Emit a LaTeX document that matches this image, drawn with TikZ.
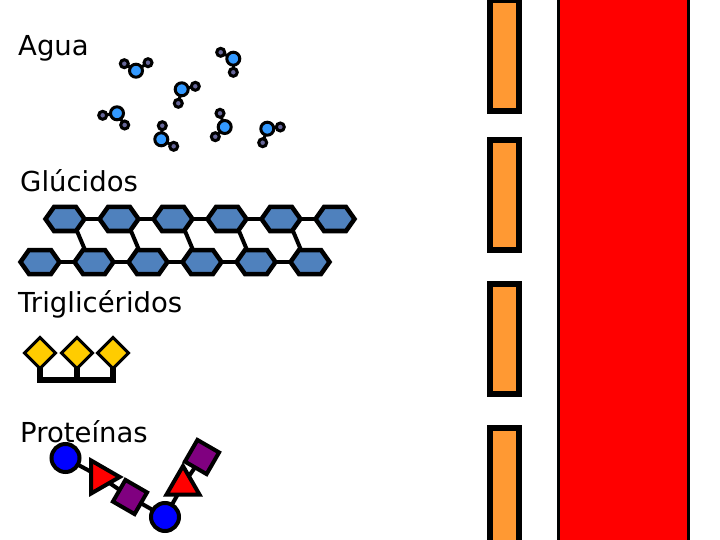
\documentclass[tikz,border=0pt]{standalone}
\usepackage{fontspec}
\setmainfont{DejaVu Sans}
\usetikzlibrary{shapes.geometric}
\definecolor{hexblue}{HTML}{4F81BD}
\definecolor{gold}{HTML}{FFCC00}
\definecolor{barorange}{HTML}{FF9933}
\definecolor{purp}{HTML}{800080}
\definecolor{oxy}{HTML}{3399FF}
\definecolor{hyd}{HTML}{666699}
\newcommand{\hexat}[1]{\path[draw,line width=4.5pt,fill=hexblue,line join=miter] (#1.west) -- ([xshift=-11pt]#1.north) -- ([xshift=11pt]#1.north) -- (#1.east) -- ([xshift=11pt]#1.south) -- ([xshift=-11pt]#1.south) -- cycle;}
\tikzset{
  x=1pt,y=-1pt,
  label text/.style={anchor=base west,inner sep=0,font=\fontsize{27.5}{30}\selectfont},
  hexa/.style={rectangle,minimum width=39pt,minimum height=24pt,inner sep=0,outer sep=0},
  hexline/.style={line width=4pt},
  gem/.style={diamond,draw,line width=3pt,fill=gold,minimum width=31pt,minimum height=31pt,inner sep=0,outer sep=0},
  bracket/.style={line width=6pt,line cap=rect},
  ball/.style={circle,draw,line width=4pt,fill=blue,minimum size=28pt,inner sep=0,outer sep=0},
  tri/.style={regular polygon,regular polygon sides=3,draw,line width=4pt,fill=red,inner sep=0,outer sep=0},
  sq/.style={rectangle,draw,line width=4pt,fill=purp,minimum width=25pt,minimum height=25pt,inner sep=0,outer sep=0},
  link/.style={line width=4pt},
  ox/.style={circle,draw,line width=3pt,fill=oxy,minimum size=13pt,inner sep=0,outer sep=0},
  hy/.style={circle,draw,line width=3pt,fill=hyd,minimum size=8pt,inner sep=0,outer sep=0},
  bond/.style={line width=3pt},
  bar/.style={draw,line width=6pt,fill=barorange},
}
\begin{document}
\begin{tikzpicture}
\useasboundingbox (0,0) rectangle (720,540);
\begin{scope}
\clip (0,0) rectangle (720,540);
\path[bar] (490,0) rectangle (519,111);
\path[bar] (490,140) rectangle (519,250);
\path[bar] (490,284) rectangle (519,394);
\path[bar] (490,428) rectangle (519,550);
\path[draw,line width=3pt,fill=red] (558.5,-5) rectangle (688.5,545);
\end{scope}
\node[label text] (tagua) at (18,56) {Agua};
\node[label text] (tglu) at (20,192) {Glúcidos};
\node[label text] (ttri) at (18,312) {Triglicéridos};
\node[label text] (tpro) at (20,442) {Proteínas};
% water
\foreach \n/\ox/\oy/\ax/\ay/\bx/\by in {a/136/70.7/124.3/63.7/148/62.7, b/233.3/58.7/220.7/52.3/233.3/72.3, c/181.7/89.3/195.3/86.3/178.3/103.3, d/117/113.3/102.7/115.3/124.7/125, e/161.3/139.3/162.3/125.7/173.7/146.3, f/224.7/127/220/113.3/215.3/136.7, g/267.3/128.7/280.3/127/262.7/142.7}{
  \node[ox] (o\n) at (\ox,\oy) {};
  \node[hy] (p\n) at (\ax,\ay) {};
  \node[hy] (q\n) at (\bx,\by) {};
  \draw[bond] (o\n) -- (p\n);
  \draw[bond] (o\n) -- (q\n);
}
% hexagons
\foreach \i/\x in {1/65,2/119,3/173,4/227,5/281,6/335}{\node[hexa] (t\i) at (\x,219) {};\hexat{t\i}}
\foreach \i/\x in {1/40,2/94,3/148,4/202,5/256,6/310}{\node[hexa] (u\i) at (\x,262) {};\hexat{u\i}}
\foreach \a/\b in {1/2,2/3,3/4,4/5,5/6}{
  \draw[hexline] (t\a) -- (t\b);
  \draw[hexline] (u\a) -- (u\b);
}
\foreach \a/\b in {1/2,2/3,3/4,4/5,5/6}{
  \draw[hexline] ([xshift=12pt]t\a.south) -- ([xshift=-9pt]u\b.north);
}
% triglycerides
\node[gem] (d1) at (40,353) {};
\node[gem] (d2) at (77,353) {};
\node[gem] (d3) at (113,353) {};
\draw[bracket] (d1.south) |- (d3 |- 0,380) coordinate (bend) -- (d3.south);
\draw[bracket] (d2.south) -- (d2 |- bend);
% proteins
\node[ball] (c1) at (65.5,458) {};
\node[tri,minimum size=38pt,shape border rotate=-90] (tr1) at (100.7,477) {};
\node[sq,rotate=-30] (s1) at (130,497) {};
\node[ball] (c2) at (165,517) {};
\node[tri,minimum size=38pt] (tr2) at (183,485) {};
\node[sq,rotate=-30] (s2) at (202,457) {};
\draw[link] (c1) -- (tr1);
\draw[link] (tr1) -- (s1);
\draw[link] (s1) -- (c2);
\draw[link] (c2) -- (tr2);
\draw[link] (tr2) -- (s2);
\end{tikzpicture}
\end{document}
